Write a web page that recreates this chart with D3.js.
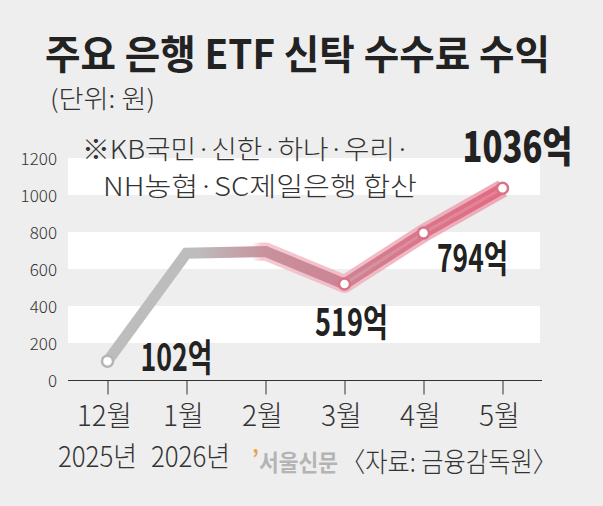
<!DOCTYPE html>
<html><head><meta charset="utf-8">
<script src="https://cdn.jsdelivr.net/npm/d3@7"></script>
<style>html,body{margin:0;padding:0;background:#eeeeee;}svg{display:block;}</style>
</head><body>
<script>
const months = ["12월","1월","2월","3월","4월","5월"];
const years = ["2025년","2026년","","","",""];
const values = [102, 685, 695, 519, 794, 1036];
const labeled = [0, 3, 4, 5];
const yTicks = [0, 200, 400, 600, 800, 1000, 1200];
const bands = [[200,400],[600,800],[1000,1200]];
const title = "주요 은행 ETF 신탁 수수료 수익";
const unit = "(단위: 원)";
const noteLines = ["※KB국민·신한·하나·우리·", "NH농협·SC제일은행 합산"];
const source = "〈자료: 금융감독원〉";
const logo = "서울신문";

const W = 603, H = 506;
const svg = d3.select("body").append("svg").attr("width", W).attr("height", H);
svg.append("rect").attr("width", W).attr("height", H).attr("fill", "#eeeeee");

const x = d3.scalePoint().domain(months).range([68, 542]).padding(0.5);
const y = d3.scaleLinear().domain([0, 1200]).range([380, 158]);

const KR = "'Noto Sans CJK KR', 'Noto Sans', sans-serif";

// text fitted to a measured width; "middle" handled by shifting x
function txt(s, xx, yy, size, weight, fill, len, fam, anchor) {
  const sx = (len && anchor === "middle") ? xx - len / 2 : xx;
  const t = svg.append("text").attr("x", sx).attr("y", yy)
    .attr("font-family", fam || KR).attr("font-size", size)
    .attr("font-weight", weight).attr("fill", fill).text(s);
  if (anchor && !len) t.attr("text-anchor", anchor);
  if (len) t.attr("textLength", len).attr("lengthAdjust", "spacingAndGlyphs");
  return t;
}

// bands
svg.selectAll("rect.band").data(bands).join("rect").attr("class","band")
  .attr("x", 68).attr("width", 472)
  .attr("y", d => y(d[1])).attr("height", d => y(d[0]) - y(d[1]))
  .attr("fill", "#ffffff");

// title etc
txt(title, 45, 69, 40, 700, "#222222", 505);
txt(unit, 50, 108, 25, 300, "#333333", 105);
txt(noteLines[0], 82, 159, 26, 300, "#333333", 328);
txt(noteLines[1], 103, 196, 26, 300, "#333333", 314);

// y tick labels
const yAxis = d3.axisLeft(y).tickValues(yTicks).tickFormat(d3.format("d")).tickSize(0).tickPadding(0);
const gy = svg.append("g").attr("transform", "translate(57,0)").call(yAxis);
gy.select(".domain").remove();
gy.selectAll("text").attr("font-family", KR).attr("font-size", 17)
  .attr("font-weight", 300).attr("fill", "#333333").attr("dy", "0.36em");

// x axis
const xAxis = d3.axisBottom(x).tickSize(14).tickSizeOuter(0).tickFormat("");
const gx = svg.append("g").attr("transform", "translate(0,380.5)").call(xAxis);
gx.select(".domain").attr("stroke", "#333333").attr("d", "M68,0H542");
gx.selectAll(".tick line").attr("stroke", "#333333");

const yearShift = [-10, 4];
months.forEach((m, i) => {
  const cx = x(m);
  txt(m, cx - 3, 426, 28, 300, "#333333", m.length === 3 ? 55 : 41, KR, "middle");
  if (years[i]) txt(years[i], cx + yearShift[i], 467, 28, 300, "#333333", 79, KR, "middle");
});

// line gradients
const defs = svg.append("defs");
const cg = defs.append("linearGradient").attr("id", "coreGrad")
  .attr("gradientUnits", "userSpaceOnUse")
  .attr("x1", x(months[0])).attr("x2", x(months[5])).attr("y1", 0).attr("y2", 0);
const span = x(months[5]) - x(months[0]);
const off = v => ((v - x(months[0])) / span);
[[x(months[0]), "#bdbdbd"], [x(months[1]) + 10, "#bdbdbd"], [x(months[2]), "#c8919c"],
 [x(months[3]), "#cd8393"], [x(months[4]), "#da758a"], [x(months[5]), "#e26a81"]]
  .forEach(([p, c]) => cg.append("stop").attr("offset", off(p)).attr("stop-color", c));

const hg = defs.append("linearGradient").attr("id", "haloGrad")
  .attr("gradientUnits", "userSpaceOnUse")
  .attr("x1", x(months[0])).attr("x2", x(months[5])).attr("y1", 0).attr("y2", 0);
[[x(months[2]) - 14, "#f3bcc7", 0], [x(months[2]) - 4, "#f3bcc7", 0.8],
 [x(months[5]), "#eba0b0", 0.9]]
  .forEach(([p, c, o]) => hg.append("stop").attr("offset", off(p)).attr("stop-color", c).attr("stop-opacity", o));

const pts = months.map((m, i) => [x(m), y(values[i])]);
const line = d3.line();
svg.append("path").attr("d", line(pts.slice(1))).attr("fill", "none")
  .attr("stroke", "url(#haloGrad)").attr("stroke-width", 18)
  .attr("stroke-linejoin", "round");
svg.append("path").attr("d", line(pts)).attr("fill", "none")
  .attr("stroke", "url(#coreGrad)").attr("stroke-width", 11)
  .attr("stroke-linejoin", "miter").attr("stroke-linecap", "round");
svg.append("path").attr("d", line(pts.slice(3))).attr("fill", "none")
  .attr("stroke", "#ffffff").attr("stroke-opacity", 0.15).attr("stroke-width", 3);

// dots
svg.selectAll("circle.dot").data(labeled).join("circle").attr("class", "dot")
  .attr("cx", i => x(months[i])).attr("cy", i => y(values[i])).attr("r", 5.5)
  .attr("fill", "#ffffff")
  .attr("stroke", i => i === 0 ? "#b5b5b5" : "#d87489").attr("stroke-width", 2.5);

// value labels: [dx, dy, width, size, weight]
const lab = {0: [69, 10, 72, 38, 700], 3: [7, 52, 73, 38, 700], 4: [49, 39, 71, 38, 700], 5: [15, -26, 110, 42, 900]};
labeled.forEach(i => {
  const [dx, dy, len, size, wt] = lab[i];
  txt(d3.format("d")(values[i]) + "억", x(months[i]) + dx, y(values[i]) + dy, size, wt,
      "#222222", len, KR, "middle");
});

// logo & source
const lg = svg.append("text").attr("x", 252).attr("y", 471)
  .attr("font-family", KR).attr("font-weight", 700).attr("font-size", 23)
  .attr("textLength", 86).attr("lengthAdjust", "spacingAndGlyphs");
lg.append("tspan").attr("fill", "#e9a153").attr("dy", -4).text("’");
lg.append("tspan").attr("fill", "#b4b4b4").attr("dy", 4).text(logo);
txt(source, 341, 472, 27, 300, "#333333", 216, KR);
</script>
</body></html>
